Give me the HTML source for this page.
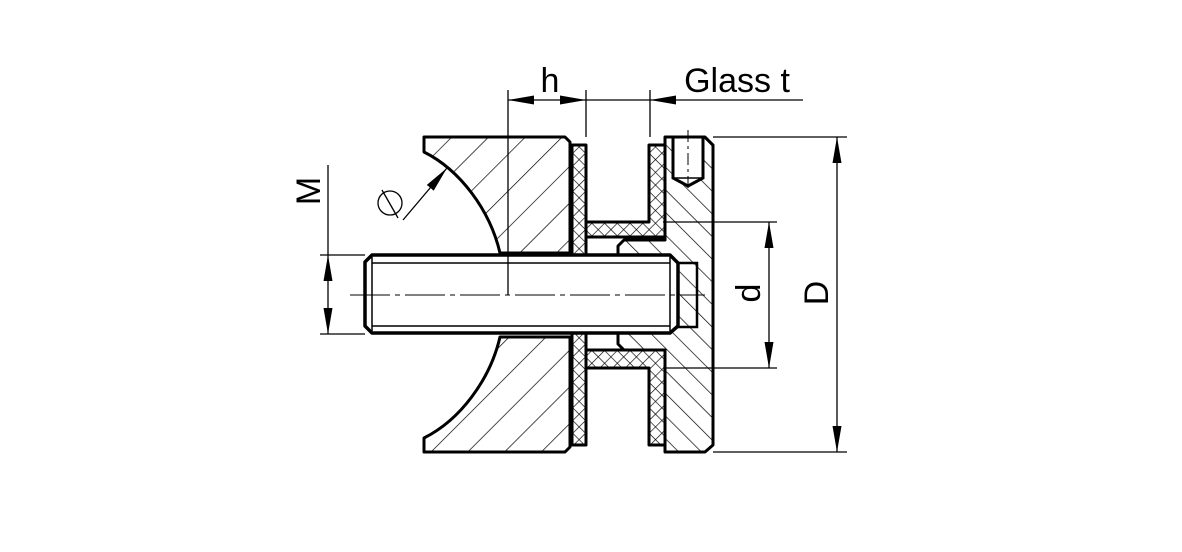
<!DOCTYPE html>
<html><head><meta charset="utf-8"><style>
html,body{margin:0;padding:0;background:#fff;}
svg{display:block}
text{font-family:"Liberation Sans",sans-serif;fill:#000}
</style></head><body>
<svg width="1182" height="552" viewBox="0 0 1182 552" xmlns="http://www.w3.org/2000/svg">
<defs>
<pattern id="hA" patternUnits="userSpaceOnUse" width="26" height="26" patternTransform="rotate(45)">
<line x1="0" y1="0" x2="0" y2="26" stroke="#000" stroke-width="1.4"/></pattern>
<pattern id="hB" patternUnits="userSpaceOnUse" width="16" height="16" patternTransform="rotate(-45)">
<line x1="0" y1="0" x2="0" y2="16" stroke="#000" stroke-width="1.4"/></pattern>
<pattern id="hX" patternUnits="userSpaceOnUse" width="9" height="9" patternTransform="rotate(45)">
<line x1="0" y1="0" x2="0" y2="9" stroke="#000" stroke-width="1.3"/>
<line x1="0" y1="0" x2="9" y2="0" stroke="#000" stroke-width="1.3"/></pattern>
<marker id="ar" viewBox="0 0 26 9" refX="26" refY="4.5" markerWidth="26" markerHeight="9" markerUnits="userSpaceOnUse" orient="auto">
<path d="M0,0 L26,4.5 L0,9 Z" fill="#000"/></marker>
</defs>

<!-- cup -->
<g fill="url(#hA)" stroke="#000" stroke-width="3" stroke-linejoin="round">
<path d="M424,137 L565,137 L570,142 L570,253 L500,253 C490,210 460,170 424,152 Z"/>
<path d="M424,452 L565,452 L570,447 L570,337 L500,337 C490,380 460,420 424,438 Z"/>
</g>
<!-- disk -->
<path d="M665,137 L705,137 L713,145 L713,445 L705,452 L665,452 L665,350 L624,350 L618,344 L618,246 L624,240 L665,240 Z" fill="url(#hB)" stroke="#000" stroke-width="3" stroke-linejoin="round"/>
<!-- screw hole -->
<path d="M673,137 L703,137 L703,178 L688,186 L673,178 Z" fill="#fff" stroke="#000" stroke-width="3"/>
<line x1="673" y1="178" x2="703" y2="178" stroke="#000" stroke-width="1.5"/>
<line x1="688" y1="130" x2="688" y2="192" stroke="#000" stroke-width="1" stroke-dasharray="12,4,3,4"/>
<!-- gaskets -->
<g fill="url(#hX)" stroke="#000" stroke-width="3" stroke-linejoin="round">
<rect x="572" y="145" width="14" height="300"/>
<path d="M649,145 L665,145 L665,237 L586,237 L586,222 L649,222 Z"/>
<path d="M586,350 L665,350 L665,445 L649,445 L649,368 L586,368 Z"/>
</g>
<!-- bolt -->
<path d="M372,255 L670,255 L678,263 L678,326 L670,333 L372,333 L365,326 L365,262 Z" fill="#fff" stroke="#000" stroke-width="3.5" stroke-linejoin="round"/>
<g stroke="#000" stroke-width="1.5">
<line x1="372" y1="263" x2="670" y2="263"/>
<line x1="372" y1="326" x2="670" y2="326"/>
<line x1="372" y1="257" x2="372" y2="331"/>
<line x1="670" y1="257" x2="670" y2="331"/>
<path d="M678,263 L697,263 L697,327 L678,327" fill="none" stroke-width="2.5"/>
</g>
<line x1="350" y1="295" x2="705" y2="295" stroke="#000" stroke-width="1" stroke-dasharray="40,5,5,5"/>

<!-- dimensions -->
<g stroke="#000" stroke-width="1.3" fill="none">
<line x1="508" y1="90" x2="508" y2="295"/>
<line x1="586" y1="90" x2="586" y2="137"/>
<line x1="650" y1="90" x2="650" y2="137"/>
<line x1="547" y1="100" x2="508" y2="100" marker-end="url(#ar)"/>
<line x1="547" y1="100" x2="586" y2="100" marker-end="url(#ar)"/>
<line x1="586" y1="100" x2="650" y2="100"/>
<line x1="803" y1="100" x2="650" y2="100" marker-end="url(#ar)"/>

<line x1="713" y1="137" x2="847" y2="137"/>
<line x1="713" y1="452" x2="847" y2="452"/>
<line x1="837" y1="295" x2="837" y2="137" marker-end="url(#ar)"/>
<line x1="837" y1="295" x2="837" y2="452" marker-end="url(#ar)"/>

<line x1="663" y1="222" x2="777" y2="222"/>
<line x1="663" y1="368" x2="777" y2="368"/>
<line x1="769" y1="295" x2="769" y2="222" marker-end="url(#ar)"/>
<line x1="769" y1="295" x2="769" y2="368" marker-end="url(#ar)"/>

<line x1="320" y1="255" x2="365" y2="255"/>
<line x1="320" y1="334" x2="365" y2="334"/>
<line x1="328" y1="165" x2="328" y2="255"/>
<line x1="328" y1="295" x2="328" y2="255" marker-end="url(#ar)"/>
<line x1="328" y1="295" x2="328" y2="334" marker-end="url(#ar)"/>

<line x1="403" y1="220" x2="447" y2="168" marker-end="url(#ar)"/>
<circle cx="390" cy="203" r="12"/>
<line x1="382" y1="190" x2="398" y2="218"/>
</g>
<text x="550" y="92" font-size="34" text-anchor="middle">h</text>
<text x="737" y="92" font-size="34" text-anchor="middle">Glass t</text>
<text transform="translate(320,191) rotate(-90)" font-size="34" text-anchor="middle">M</text>
<text transform="translate(760,293) rotate(-90)" font-size="34" text-anchor="middle">d</text>
<text transform="translate(828,293) rotate(-90)" font-size="34" text-anchor="middle">D</text>
</svg>
</body></html>
